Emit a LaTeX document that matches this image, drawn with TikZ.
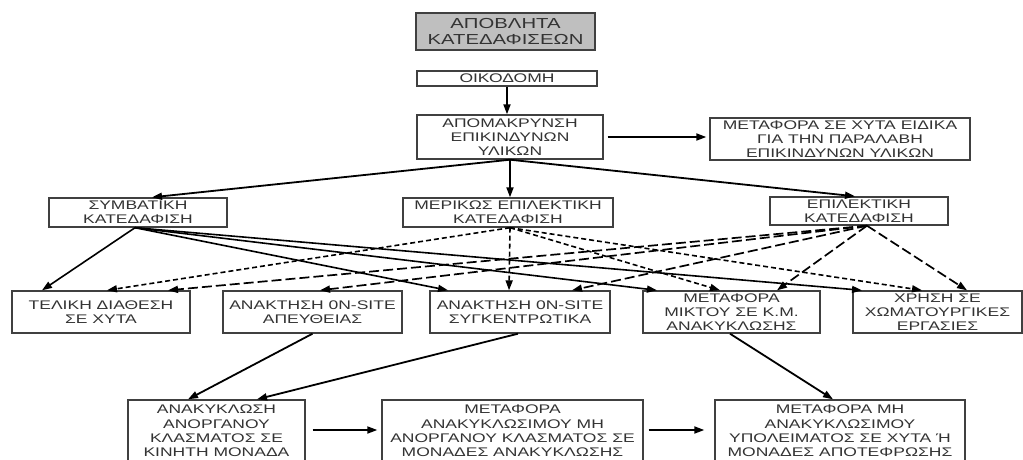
\documentclass[tikz,border=0pt]{standalone}
\usepackage{fontspec}
\newfontfamily\boxfont[FakeStretch=1.4]{Liberation Sans}
\usepackage{xcolor}
\usepackage{tikz}
\usetikzlibrary{positioning,calc,arrows.meta}

\begin{document}
\begin{tikzpicture}[x=1pt, y=-1pt,
	kouti/.style={draw=black!75, line width=1.4pt, align=center, inner sep=0pt, text=black!80, font=\boxfont\fontsize{12.5}{14.3}\selectfont},
	velos/.style={-{Triangle[length=10pt,width=7pt]}, line width=1.8pt},
	mikri/.style={velos, line width=1.6pt, dash pattern=on 5pt off 3pt},
	megali/.style={velos, line width=1.7pt, dash pattern=on 10pt off 4pt}]
					\fill[white] (0,0) rectangle (1023,459);
					\useasboundingbox (0,0) rectangle (1023,459);
					% top
					\node[kouti, fill=gray!50, minimum width=179, minimum height=37, font=\boxfont\fontsize{14.5}{16}\selectfont] (titlos) at (505.5,31.5) {ΑΠΟΒΛΗΤΑ\\ΚΑΤΕΔΑΦΙΣΕΩΝ};
					\node[kouti, minimum width=180, minimum height=15] (oikod) at (507,78.5) {ΟΙΚΟΔΟΜΗ};
					\node[kouti, minimum width=186, minimum height=44] (apom) at (510,137) {ΑΠΟΜΑΚΡΥΝΣΗ\\ΕΠΙΚΙΝΔΥΝΩΝ\\ΥΛΙΚΩΝ};
					\node[kouti, minimum width=260, minimum height=42] (metaf) at (840,139) {ΜΕΤΑΦΟΡΑ ΣΕ ΧΥΤΑ ΕΙΔΙΚΑ\\ΓΙΑ ΤΗΝ ΠΑΡΑΛΑΒΗ\\ΕΠΙΚΙΝΔΥΝΩΝ ΥΛΙΚΩΝ};
					% types of demolition
					\node[kouti, minimum width=178, minimum height=29] (symv) at (138,212.5) {ΣΥΜΒΑΤΙΚΗ\\ΚΑΤΕΔΑΦΙΣΗ};
					\node[kouti, minimum width=210, minimum height=29] (merik) at (508,212.5) {ΜΕΡΙΚΩΣ ΕΠΙΛΕΚΤΙΚΗ\\ΚΑΤΕΔΑΦΙΣΗ};
					\node[kouti, minimum width=178, minimum height=28] (epil) at (859,211) {ΕΠΙΛΕΚΤΙΚΗ\\ΚΑΤΕΔΑΦΙΣΗ};
					% first row of outcomes
					\node[kouti, minimum width=178, minimum height=42] (telik) at (101,312) {ΤΕΛΙΚΗ ΔΙΑΘΕΣΗ\\ΣΕ ΧΥΤΑ};
					\node[kouti, minimum width=179, minimum height=42] (apeuth) at (312.5,312) {ΑΝΑΚΤΗΣΗ 0Ν-SITE\\ΑΠΕΥΘΕΙΑΣ};
					\node[kouti, minimum width=180, minimum height=42] (sygk) at (520,312) {ΑΝΑΚΤΗΣΗ 0Ν-SITE\\ΣΥΓΚΕΝΤΡΩΤΙΚΑ};
					\node[kouti, minimum width=177, minimum height=42] (mikt) at (731.5,312) {ΜΕΤΑΦΟΡΑ\\ΜΙΚΤΟΥ ΣΕ Κ.Μ.\\ΑΝΑΚΥΚΛΩΣΗΣ};
					\node[kouti, minimum width=169, minimum height=42] (xrisi) at (937.5,312) {ΧΡΗΣΗ ΣΕ\\ΧΩΜΑΤΟΥΡΓΙΚΕΣ\\ΕΡΓΑΣΙΕΣ};
					% second row
					\node[kouti, minimum width=177, minimum height=62] (anak) at (216.5,431) {ΑΝΑΚΥΚΛΩΣΗ\\ΑΝΟΡΓΑΝΟΥ\\ΚΛΑΣΜΑΤΟΣ ΣΕ\\ΚΙΝΗΤΗ ΜΟΝΑΔΑ};
					\node[kouti, minimum width=261, minimum height=62] (metan) at (512.5,431) {ΜΕΤΑΦΟΡΑ\\ΑΝΑΚΥΚΛΩΣΙΜΟΥ ΜΗ\\ΑΝΟΡΓΑΝΟΥ ΚΛΑΣΜΑΤΟΣ ΣΕ\\ΜΟΝΑΔΕΣ ΑΝΑΚΥΚΛΩΣΗΣ};
					\node[kouti, minimum width=250, minimum height=62] (metmi) at (840,431) {ΜΕΤΑΦΟΡΑ ΜΗ\\ΑΝΑΚΥΚΛΩΣΙΜΟΥ\\ΥΠΟΛΕΙΜΑΤΟΣ ΣΕ ΧΥΤΑ Ή\\ΜΟΝΑΔΕΣ ΑΠΟΤΕΦΡΩΣΗΣ};
					% arrows
					\draw[velos] (oikod.south) -- (oikod.south |- apom.north);
					\draw[velos, shorten <=4pt, shorten >=3pt] (apom.east) -- (apom.east -| metaf.west);
					\draw[velos] (apom.south) -- ([xshift=14pt]symv.north);
					\draw[velos] (apom.south) -- (apom.south |- merik.north);
					\draw[velos] (apom.south) -- ([xshift=-4pt]epil.north);
					\foreach \ka/\dx in {telik/-59, sygk/-72, mikt/-74.5, xrisi/-75.5}
						\draw[velos, line width=1.6pt] ([xshift=-3pt]symv.south) -- ([xshift=\dx pt]\ka.north);
					\foreach \ka/\dx in {telik/6, sygk/-11, mikt/-11.5, xrisi/-15.5}
						\draw[mikri] ([xshift=2pt]merik.south) -- ([xshift=\dx pt]\ka.north);
					\foreach \ka/\dx in {telik/67, apeuth/7.5, sygk/52, mikt/45.5, xrisi/29.5}
						\draw[megali] ([xshift=8pt]epil.south) -- ([xshift=\dx pt]\ka.north);
					\draw[velos] (apeuth.south) -- ([xshift=-28.5pt]anak.north);
					\draw[velos] ([xshift=-2pt]sygk.south) -- ([xshift=40.5pt]anak.north);
					\draw[velos] ([xshift=-1.5pt]mikt.south) -- ([xshift=-7pt]metmi.north);
					\draw[velos, shorten <=7pt, shorten >=4pt] ([yshift=1pt]anak.east) -- ([yshift=1pt]anak.east -| metan.west);
					\draw[velos, shorten <=5pt, shorten >=10pt] ([yshift=1pt]metan.east) -- ([yshift=1pt]metan.east -| metmi.west);
				\end{tikzpicture}
\end{document}
